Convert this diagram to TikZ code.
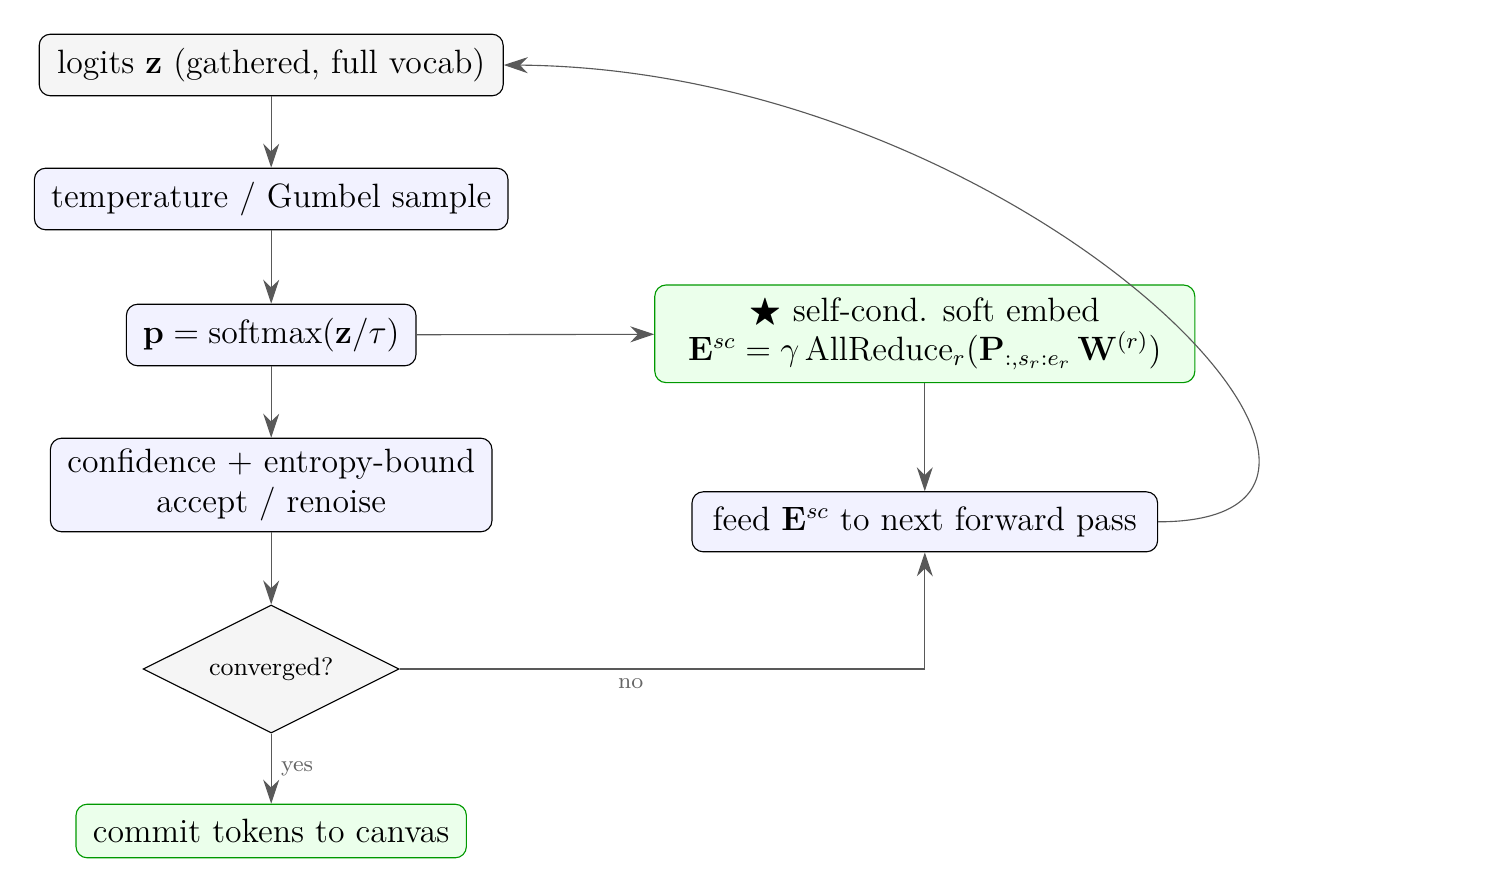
\documentclass[tikz,border=0pt]{standalone}
\usepackage{amsmath,amssymb}
\usetikzlibrary{shapes.geometric,arrows.meta,positioning}
\begin{document}
\begin{tikzpicture}[scale=1,transform shape]
    % Basic node styles
    \tikzset{
        block/.style={
            rectangle,
            rounded corners,
            draw,
            fill=blue!5,
            align=center,
            font=\large,
            minimum height=0.77cm
        },
        inputbox/.style={block, fill=gray!8},
        okbox/.style={block, fill=green!8, draw=green!60!black},
        decide/.style={
            diamond,
            draw,
            fill=gray!8,
            aspect=2,
            minimum width=3.2cm,
            minimum height=1.6cm,
            inner sep=0pt,
            font=\small
        },
        link/.style={-{Stealth[length=3mm,width=2mm]}, draw=black!65},
        tag/.style={font=\footnotesize, text=black!60}
    }
    \useasboundingbox (0,0) rectangle (18.825,11.1625);

    % Main column
    \node[inputbox, minimum width=5.8cm] (logits) at (3.39,10.35) {logits $\mathbf{z}$ (gathered, full vocab)};
    \node[block, minimum width=5.92cm] (temp) at (3.39,8.675) {temperature / Gumbel sample};
    \node[block, minimum width=3.62cm] (prob) at (3.39,6.975) {$\mathbf{p} = \mathrm{softmax}(\mathbf{z}/\tau)$};
    \node[block, minimum width=5.52cm, minimum height=1.17cm] (conf) at (3.39,5.1) {confidence + entropy-bound\\accept / renoise};
    \node[decide] (conv) at (3.39,2.8) {converged?};
    \node[okbox, minimum width=4.88cm, minimum height=0.67cm] (commit) at (3.39,0.775) {commit tokens to canvas};

    % Self-conditioning branch
    \node[okbox, minimum width=6.75cm, minimum height=1.22cm, inner sep=1pt] (selfc) at (11.56,6.99) {$\bigstar$ self-cond. soft embed\\$\mathbf{E}^{sc} = \gamma\,\mathrm{AllReduce}_r(\mathbf{P}_{:,s_r:e_r}\,\mathbf{W}^{(r)})$};
    \node[block, minimum width=5.82cm, minimum height=0.75cm] (feed) at (11.56,4.64) {feed $\mathbf{E}^{sc}$ to next forward pass};

    % Connections
    \draw[link] (logits) -- (temp);
    \draw[link] (temp) -- (prob);
    \draw[link] (prob) -- (conf);
    \draw[link] (conf) -- (conv);
    \draw[link] (conv) -- node[tag, right] {yes} (commit);
    \draw[link] (prob) -- (selfc);
    \draw[link] (selfc) -- (feed);
    \draw[link] (conv.east) -| node[tag, pos=0.22, below] {no} (feed.south);
    \draw[link] (feed.east) .. controls (18.3,4.64) and (12.8,10.3) .. (logits.east);
\end{tikzpicture}
\end{document}
